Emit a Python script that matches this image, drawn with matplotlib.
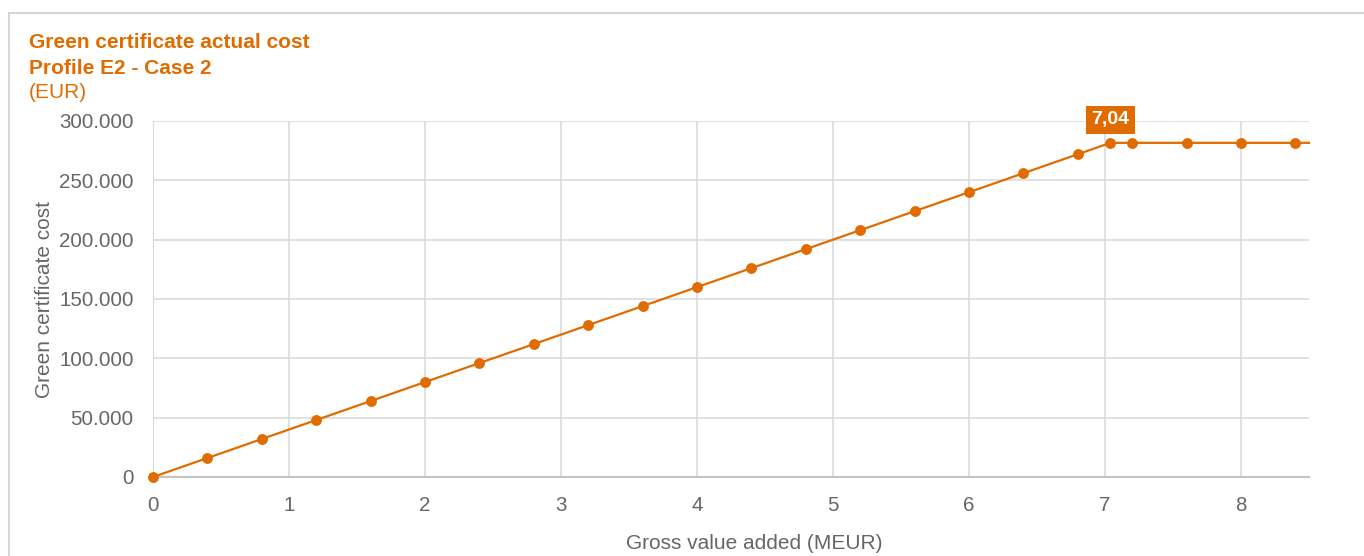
import matplotlib.pyplot as plt
from matplotlib.patches import Rectangle
from matplotlib.ticker import FuncFormatter, MultipleLocator

plt.rcParams['font.family'] = ['Liberation Sans', 'DejaVu Sans']

gva = [0, 0.4, 0.8, 1.2, 1.6, 2.0, 2.4, 2.8, 3.2, 3.6, 4.0, 4.4, 4.8, 5.2,
       5.6, 6.0, 6.4, 6.8, 7.04, 7.2, 7.6, 8.0, 8.4, 8.5]
cost = [0, 16000, 32000, 48000, 64000, 80000, 96000, 112000, 128000, 144000,
        160000, 176000, 192000, 208000, 224000, 240000, 256000, 272000,
        281600, 281600, 281600, 281600, 281600, 281600]
marker_every = list(range(len(gva) - 1))
label_idx = 18
label_text = '7,04'

orange = '#E06C00'
grey_text = '#666666'
grid_col = '#D9D9D9'

fig = plt.figure(figsize=(13.64, 5.56), dpi=100)
fig.patches.append(Rectangle((9 / 1364, -0.1), 1.2, 1.1 - 13 / 556, transform=fig.transFigure,
                             fill=False, edgecolor='#D6D6D6', linewidth=1.5))

ax = fig.add_axes([153 / 1364, 1 - 477 / 556, (1309 - 153) / 1364, (477 - 121) / 556])
ax.plot(gva, cost, color=orange, linewidth=1.6, marker='o', markersize=6.8,
        markevery=marker_every, clip_on=False, zorder=3)

ax.set_xlim(0, 8.5)
ax.set_ylim(0, 300000)
ax.xaxis.set_major_locator(MultipleLocator(1))
ax.yaxis.set_major_locator(MultipleLocator(50000))
ax.yaxis.set_major_formatter(FuncFormatter(lambda v, p: f'{int(v):,}'.replace(',', '.')))
ax.grid(True, color=grid_col, linewidth=1.1)
ax.set_axisbelow(True)
for s in ['top', 'right']:
    ax.spines[s].set_visible(False)
ax.spines['left'].set_color(grid_col)
ax.spines['bottom'].set_color('#C4C4C4')
ax.spines['bottom'].set_linewidth(1.5)
ax.tick_params(length=0, labelsize=14.8, colors=grey_text)
ax.tick_params(axis='y', pad=14)
ax.tick_params(axis='x', pad=14)

ax.set_xlabel('Gross value added (MEUR)', fontsize=15, color=grey_text)
ax.xaxis.set_label_coords(0.52, -(534 - 477) / (477 - 121))
ax.set_ylabel('Green certificate cost', fontsize=15, color=grey_text)
ax.yaxis.set_label_coords(-(153 - 54) / (1309 - 153), 0.5)

ax.annotate(label_text, (gva[label_idx], cost[label_idx]), xytext=(0, 16.5),
            textcoords='offset points', ha='center', va='center', fontsize=14,
            fontweight='bold', color='white',
            bbox=dict(boxstyle='square,pad=0.28', fc=orange, ec='none'))

fig.text(29 / 1364, 1 - 43 / 556, 'Green certificate actual cost', fontsize=15,
         fontweight='bold', color=orange, va='center')
fig.text(29 / 1364, 1 - 68 / 556, 'Profile E2 - Case 2', fontsize=15,
         fontweight='bold', color=orange, va='center')
fig.text(29 / 1364, 1 - 92 / 556, '(EUR)', fontsize=15, color=orange, va='center')

fig.savefig('out.png', dpi=100)
